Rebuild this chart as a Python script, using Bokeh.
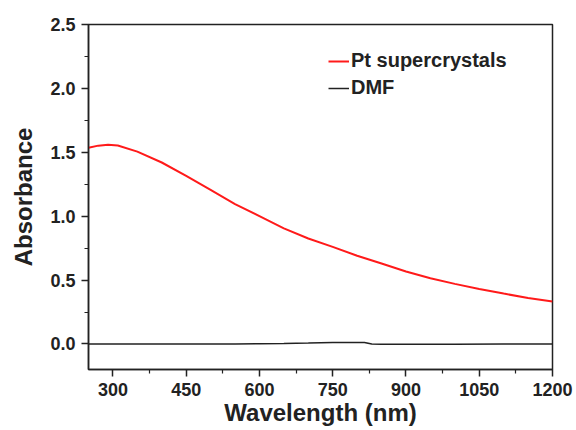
from bokeh.plotting import figure
from bokeh.models import Range1d, FixedTicker, Legend, LegendItem
from bokeh.embed import file_html
from bokeh.resources import INLINE

# Data
wl_pt = [250, 270, 290, 310, 350, 400, 450, 500, 550, 600, 650, 700, 750,
         800, 850, 900, 950, 1000, 1050, 1100, 1150, 1200]
abs_pt = [1.535, 1.552, 1.558, 1.553, 1.505, 1.42, 1.315, 1.205, 1.095, 1.00,
          0.905, 0.825, 0.76, 0.69, 0.63, 0.567, 0.514, 0.47, 0.43, 0.394,
          0.36, 0.332]
wl_dmf = [250, 400, 550, 600, 650, 700, 750, 800, 815, 830, 850, 900, 1000,
          1100, 1200]
abs_dmf = [0.0, 0.0, 0.0, 0.002, 0.004, 0.007, 0.011, 0.012, 0.011, -0.001,
           -0.003, -0.003, -0.002, -0.001, -0.001]
x_ticks = [300, 450, 600, 750, 900, 1050, 1200]
x_minor = [375, 525, 675, 825, 975, 1125]
y_ticks = [0.0, 0.5, 1.0, 1.5, 2.0, 2.5]
y_minor = [0.25, 0.75, 1.25, 1.75, 2.25]

FONT = "Liberation Sans"

p = figure(width=576, height=430, output_backend="svg", toolbar_location=None,
           x_range=Range1d(250, 1200), y_range=Range1d(-0.2, 2.5),
           min_border_left=88, min_border_right=24, min_border_top=24,
           min_border_bottom=61)
p.grid.visible = False
p.outline_line_color = "#222222"
p.outline_line_width = 1.5
p.background_fill_color = "white"
p.border_fill_color = "white"

r_pt = p.line(wl_pt, abs_pt, line_color="#ff1a1a", line_width=2)
r_dmf = p.line(wl_dmf, abs_dmf, line_color="#222222", line_width=1.5)

for ax in (p.xaxis[0], p.yaxis[0]):
    ax.axis_line_width = 1.5
    ax.axis_line_color = "#222222"
    ax.major_tick_line_color = "#222222"
    ax.minor_tick_line_color = "#222222"
    ax.major_tick_line_width = 1.5
    ax.minor_tick_line_width = 1.2
    ax.major_tick_in = 0
    ax.major_tick_out = 7
    ax.minor_tick_in = 0
    ax.minor_tick_out = 4
    ax.major_label_text_font = FONT
    ax.major_label_text_font_style = "bold"
    ax.major_label_text_font_size = "18px"
    ax.major_label_text_color = "#222222"
    ax.axis_label_text_font = FONT
    ax.axis_label_text_font_style = "bold"
    ax.axis_label_text_font_size = "24px"
    ax.axis_label_text_color = "#222222"

p.xaxis[0].ticker = FixedTicker(ticks=x_ticks, minor_ticks=x_minor)
p.yaxis[0].ticker = FixedTicker(ticks=y_ticks, minor_ticks=y_minor)
p.yaxis[0].major_label_overrides = {t: f"{t:.1f}" for t in y_ticks}
p.xaxis[0].axis_label = "Wavelength (nm)"
p.yaxis[0].axis_label = "Absorbance"
p.xaxis[0].major_label_standoff = 6
p.yaxis[0].major_label_standoff = 6
p.xaxis[0].axis_label_standoff = 0
p.yaxis[0].axis_label_standoff = 10

legend = Legend(items=[LegendItem(label="Pt supercrystals", renderers=[r_pt]),
                       LegendItem(label="DMF", renderers=[r_dmf])],
                location=(240, 270), padding=0, margin=0, spacing=4,
                glyph_width=21, glyph_height=20, label_height=20,
                label_standoff=2, border_line_color=None,
                background_fill_alpha=0,
                label_text_font=FONT, label_text_font_style="bold",
                label_text_font_size="20px", label_text_color="#222222")
p.add_layout(legend)

open("out.html", "w").write(file_html(p, INLINE))
